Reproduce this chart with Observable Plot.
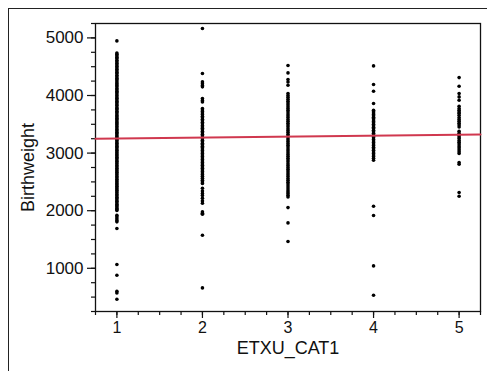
<!DOCTYPE html>
<html><head><meta charset="utf-8">
<script src="https://cdn.jsdelivr.net/npm/d3@7"></script>
<script src="https://cdn.jsdelivr.net/npm/@observablehq/plot@0.6"></script>
<style>
html,body{margin:0;padding:0;background:#fff;}
#wrap{position:relative;width:487px;height:371px;overflow:hidden;background:#fff;}
#box{position:absolute;left:8px;top:8px;width:700px;height:700px;border-left:1.5px solid #222;border-top:1.5px solid #222;}
#chart{position:absolute;left:0;top:0;}
#chart g[aria-label="x-axis label"], #chart g[aria-label="y-axis label"]{font-size:18px;}
</style>
</head><body>
<div id="wrap"><div id="box"></div><div id="chart"></div></div>
<script>
// Birthweight values, one list per ETXU_CAT1 category
const cat1 = [4948, 4738, 4715, 4692, 4664, 4641, 4610, 4588, 4560, 4533, 4507, 4482, 4455, 4431, 4402, 4380, 4351, 4327, 4300, 4276, 4251, 4223, 4198, 4175, 4150, 4122, 4101, 4074, 4050, 4027, 4000, 3975, 3952, 3928, 3901, 3878, 3852, 3830, 3801, 3779, 3755, 3728, 3705, 3680, 3654, 3631, 3607, 3582, 3557, 3533, 3509, 3486, 3460, 3437, 3411, 3389, 3362, 3340, 3314, 3290, 3267, 3241, 3218, 3192, 3170, 3146, 3121, 3098, 3072, 3050, 3024, 3001, 2977, 2952, 2930, 2905, 2880, 2858, 2833, 2810, 2785, 2762, 2738, 2713, 2690, 2666, 2641, 2618, 2594, 2570, 2546, 2522, 2497, 2474, 2450, 2426, 2400, 2378, 2353, 2330, 2306, 2282, 2258, 2234, 2210, 2187, 2162, 2140, 2113, 2091, 2067, 2044, 2020, 2005, 1922, 1895, 1862, 1830, 1806, 1690, 1065, 880, 602, 573, 463];
const cat2 = [5162, 4381, 4236, 4205, 4175, 4150, 3947, 3915, 3889, 3774, 3748, 3721, 3695, 3668, 3640, 3615, 3588, 3560, 3534, 3508, 3481, 3455, 3430, 3404, 3378, 3352, 3327, 3300, 3276, 3250, 3224, 3199, 3172, 3148, 3121, 3096, 3070, 3045, 3018, 2993, 2968, 2941, 2916, 2890, 2864, 2838, 2812, 2787, 2760, 2735, 2708, 2682, 2655, 2628, 2600, 2565, 2530, 2500, 2471, 2390, 2340, 2300, 2265, 2217, 2170, 2130, 1979, 1955, 1940, 1574, 660];
const cat3 = [4520, 4392, 4277, 4235, 4178, 4034, 4000, 3968, 3935, 3902, 3870, 3838, 3806, 3774, 3744, 3712, 3680, 3648, 3616, 3584, 3552, 3520, 3488, 3456, 3424, 3392, 3360, 3328, 3296, 3264, 3232, 3200, 3168, 3136, 3104, 3072, 3040, 3008, 2976, 2944, 2912, 2880, 2848, 2816, 2784, 2752, 2720, 2688, 2656, 2624, 2592, 2560, 2528, 2496, 2462, 2428, 2395, 2360, 2330, 2300, 2268, 2240, 2054, 1788, 1464];
const cat4 = [4514, 4190, 4074, 3860, 3744, 3720, 3695, 3672, 3648, 3622, 3600, 3575, 3550, 3528, 3500, 3474, 3447, 3426, 3396, 3370, 3345, 3318, 3290, 3265, 3238, 3210, 3185, 3158, 3130, 3102, 3075, 3050, 3020, 2995, 2968, 2940, 2910, 2876, 2078, 1916, 1042, 532];
const cat5 = [4311, 4161, 4034, 3976, 3918, 3814, 3773, 3745, 3715, 3690, 3657, 3617, 3585, 3555, 3520, 3490, 3455, 3380, 3345, 3310, 3281, 3252, 3220, 3190, 3160, 3125, 3095, 3060, 3025, 2992, 2836, 2807, 2315, 2251];
const categories = [1, 2, 3, 4, 5];
// Fitted line
const fitIntercept = 3235;
const fitSlope = 17;
// Scale extents and tick labels
const xDomain = [0.75, 5.25];
const yDomain = [250, 5250];
const xTicks = [1, 2, 3, 4, 5];
const yTicks = [1000, 2000, 3000, 4000, 5000];
const xMinorStep = 0.25;
const yMinorStep = 250;

const groups = [cat1, cat2, cat3, cat4, cat5];
const rows = [];
groups.forEach((vals, i) => vals.forEach(v => rows.push({cat: categories[i], bw: v})));
const fitLine = xDomain.map(x => ({x, y: fitIntercept + fitSlope * x}));
const xMinor = d3.range(xDomain[0], xDomain[1] + 1e-9, xMinorStep);
const yMinor = d3.range(yDomain[0], yDomain[1] + 1e-9, yMinorStep);

const chart = Plot.plot({
  width: 487, height: 371,
  marginLeft: 95, marginTop: 23, marginRight: 7, marginBottom: 60,
  style: {fontFamily: "'Liberation Sans', Arial, sans-serif", fontSize: "17px", background: "transparent", color: "#111", overflow: "visible"},
  x: {domain: xDomain},
  y: {domain: yDomain},
  marks: [
    Plot.frame({stroke: "#111", strokeWidth: 1.3}),
    Plot.axisY(yMinor, {tickSize: 4, tickFormat: () => "", label: null, strokeWidth: 1.2}),
    Plot.axisY(yTicks, {tickSize: 8, tickPadding: 4, tickFormat: d3.format("d"), label: "Birthweight", labelAnchor: "center", labelOffset: 74, labelArrow: "none", strokeWidth: 1.2}),
    Plot.axisX(xMinor, {tickSize: 4, tickFormat: () => "", label: null, strokeWidth: 1.2}),
    Plot.axisX(xTicks, {tickSize: 7, tickPadding: 3, fontSize: 16, tickFormat: d3.format("d"), label: "ETXU_CAT1", labelAnchor: "center", labelOffset: 42, labelArrow: "none", strokeWidth: 1.2}),
    Plot.dot(rows, {x: "cat", y: "bw", r: 1.8, fill: "#000", stroke: null}),
    Plot.line(fitLine, {x: "x", y: "y", stroke: "#d0384f", strokeWidth: 2})
  ]
});
document.getElementById("chart").appendChild(chart);
</script>
</body></html>
